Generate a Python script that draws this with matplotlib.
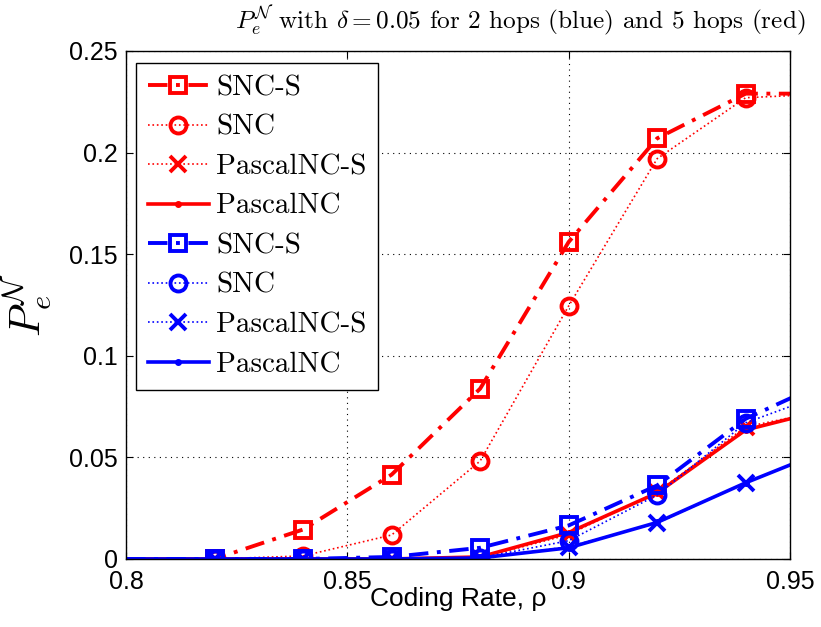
import matplotlib
matplotlib.use("Agg")
import matplotlib.pyplot as plt
from matplotlib.ticker import FuncFormatter

plt.rcParams['mathtext.fontset'] = 'cm'
plt.rcParams['axes.unicode_minus'] = False

rate = [0.80, 0.82, 0.84, 0.86, 0.88, 0.90, 0.92, 0.94, 0.96]

# 5 hops (red)
red_snc_s = [0, 0, 0.0145, 0.0415, 0.0838, 0.156, 0.207, 0.229, 0.229]
red_snc = [0, 0, 0.0015, 0.0118, 0.0482, 0.1245, 0.197, 0.227, 0.229]
red_pascal_s = [0, 0, 0, 0, 0.0005, 0.012, 0.033, 0.065, 0.074]
red_pascal = [0, 0, 0, 0, 0.001, 0.013, 0.0325, 0.0635, 0.0745]

# 2 hops (blue)
blue_snc_s = [0, 0, 0, 0.001, 0.0055, 0.0165, 0.0362, 0.069, 0.089]
blue_snc = [0, 0, 0, 0, 0.0005, 0.009, 0.0315, 0.067, 0.083]
blue_pascal_s = [0, 0, 0, 0, 0.0003, 0.006, 0.0177, 0.0374, 0.055]
blue_pascal = [0, 0, 0, 0, 0.0005, 0.0055, 0.018, 0.0375, 0.055]

labels = ['SNC-S', 'SNC', 'PascalNC-S', 'PascalNC']
xticks = [0.8, 0.85, 0.9, 0.95]
yticks = [0, 0.05, 0.1, 0.15, 0.2, 0.25]

fig = plt.figure(figsize=(8.21, 6.27), dpi=100)
ax = fig.add_axes([0.1535, 0.1085, 0.8087, 0.8102])

styles = [('-.', 's'), (':', 'o'), (':', 'x'), ('-', '.')]
handles = []
for color, series in (('red', [red_snc_s, red_snc, red_pascal_s, red_pascal]),
                      ((0, 0, 1), [blue_snc_s, blue_snc, blue_pascal_s, blue_pascal])):
    for (ls, mk), y, lab in zip(styles, series, labels):
        if mk == '.':
            kw = dict(markersize=8, markerfacecolor=color)
            lw = 2.6
        elif mk == 'x':
            kw = dict(markersize=12, markerfacecolor='none', markeredgewidth=2.8)
            lw = 1.2
        else:
            kw = dict(markersize=11.5, markerfacecolor='none', markeredgewidth=2.8)
            lw = 2.8 if ls == '-.' else 1.2
        if ls == '-.':
            ls = (0, (5, 2.2, 1, 2.2))
        h, = ax.plot(rate, y, linestyle=ls, marker=mk, color=color, linewidth=lw,
                     markevery=slice(1, None), markeredgecolor=color, label=lab, **kw)
        handles.append(h)

ax.set_xlim(0.8, 0.95)
ax.set_ylim(0, 0.25)
ax.set_xticks(xticks)
ax.set_yticks(yticks)
fmt = FuncFormatter(lambda v, p: '%g' % round(v, 4))
ax.xaxis.set_major_formatter(fmt)
ax.yaxis.set_major_formatter(fmt)
ax.grid(True, linestyle=(0, (1, 4)), color='black', linewidth=0.8)
ax.tick_params(direction='in', top=True, right=True, labelsize=18, length=5)
ax.tick_params(axis='x', pad=8)
ax.tick_params(axis='y', pad=6)
for lab in ax.get_xticklabels() + ax.get_yticklabels():
    lab.set_fontfamily('Liberation Sans')
for s in ax.spines.values():
    s.set_linewidth(1.0)

ax.set_xlabel('Coding Rate, \u03c1', fontsize=19, family='Liberation Sans', labelpad=-5)
ax.set_ylabel(r'$P_e^{\mathcal{N}}$', fontsize=31, labelpad=10)

fig.text(0.634, 0.968, r'$P_e^{\mathcal{N}}$ with $\delta = 0.05$ for 2 hops (blue) and 5 hops (red)',
         ha='center', va='center', fontsize=18.2, family='cmr10')

leg = ax.legend(handles=handles, loc='upper left', bbox_to_anchor=(0.015, 0.976),
                borderaxespad=0, fancybox=False, framealpha=1, edgecolor='black',
                prop={'family': 'cmr10', 'size': 21}, handlelength=2.1,
                handletextpad=0.25, labelspacing=0.45, borderpad=0.4, numpoints=1)
leg.get_frame().set_linewidth(1.0)

fig.savefig('out.png', dpi=100)
